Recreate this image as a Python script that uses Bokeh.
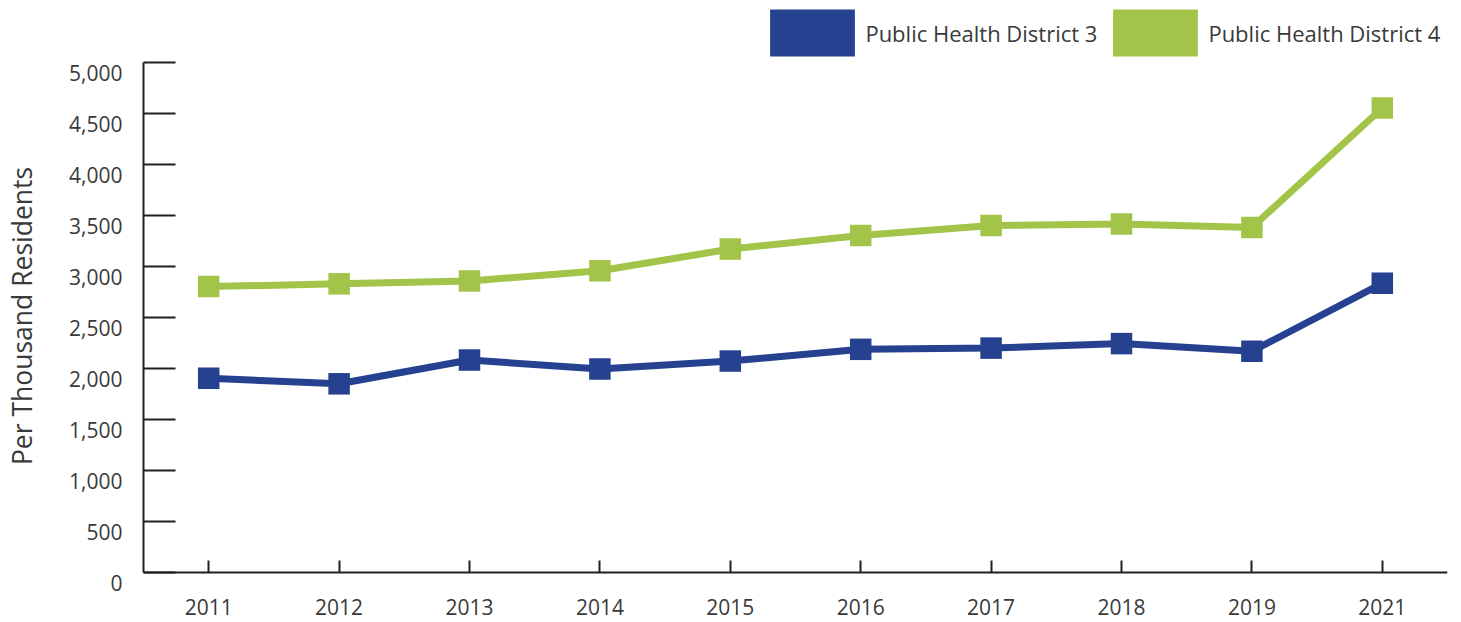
from bokeh.plotting import figure
from bokeh.models import (Range1d, FactorRange, NumeralTickFormatter, FixedTicker,
                          Legend, LegendItem, LinearAxis)
from bokeh.embed import file_html
from bokeh.resources import INLINE

years = ["2011", "2012", "2013", "2014", "2015", "2016", "2017", "2018", "2019", "2021"]
district3 = [1904, 1850, 2083, 1995, 2073, 2188, 2200, 2244, 2169, 2835]
district4 = [2803, 2830, 2858, 2958, 3171, 3303, 3402, 3416, 3382, 4554]
y_ticks = [0, 500, 1000, 1500, 2000, 2500, 3000, 3500, 4000, 4500, 5000]
series_names = ["Public Health District 3", "Public Health District 4"]

BLUE = "#25418F"
GREEN = "#A2C449"
TEXT = "#3a3a3a"
AXIS = "#231f20"
FONT = "Open Sans"

Y_MAX = 5000
H = 622
FRAME_TOP = 9        # frame spans the whole height so legend / labels are not clipped
ZERO_PX = 572        # px where 0 sits
MAX_PX = 62          # px where 5000 sits
PX_PER_UNIT = (ZERO_PX - MAX_PX) / Y_MAX
Y_TOP = Y_MAX + (MAX_PX - FRAME_TOP) / PX_PER_UNIT
Y_BOTTOM = -(H - ZERO_PX) / PX_PER_UNIT
LABEL_SHIFT = 105    # tick labels sit slightly below their ticks in the reference

p = figure(width=1461, height=H, output_backend="svg", toolbar_location=None,
           x_range=FactorRange(*years, range_padding=0), y_range=Range1d(Y_BOTTOM, Y_TOP),
           min_border_left=143, min_border_right=14, min_border_top=FRAME_TOP,
           min_border_bottom=0)
p.outline_line_color = None
p.xgrid.visible = False
p.ygrid.visible = False
p.background_fill_color = "white"
p.border_fill_color = "white"
p.extra_y_ranges = {"lbl": Range1d(Y_BOTTOM + LABEL_SHIFT, Y_TOP + LABEL_SHIFT)}

# lines + markers
p.line(years, district4, line_color=GREEN, line_width=7)
p.scatter(years, district4, marker="square", size=21.5, fill_color=GREEN, line_color=None)
p.line(years, district3, line_color=BLUE, line_width=7)
p.scatter(years, district3, marker="square", size=21.5, fill_color=BLUE, line_color=None)

# main y axis: line + ticks only
ya = p.yaxis[0]
ya.ticker = FixedTicker(ticks=y_ticks)
ya.bounds = (0, Y_MAX)
ya.axis_line_color = AXIS
ya.axis_line_width = 2
ya.major_tick_line_color = AXIS
ya.major_tick_line_width = 2
ya.major_tick_in = 32
ya.major_tick_out = 0
ya.minor_tick_line_color = None
ya.major_label_standoff = 0
ya.major_label_text_color = None
ya.major_label_text_font_size = "1px"

# label axis (same ticks, labels placed a little below each tick)
la = LinearAxis(y_range_name="lbl", ticker=FixedTicker(ticks=y_ticks),
                formatter=NumeralTickFormatter(format="0,0"))
la.axis_line_color = None
la.major_tick_line_color = None
la.minor_tick_line_color = None
la.major_tick_in = 0
la.major_tick_out = 0
la.major_label_standoff = 21
la.major_label_text_font = FONT
la.major_label_text_font_size = "21px"
la.major_label_text_color = TEXT
la.axis_label = "Per Thousand Residents"
la.axis_label_text_font = FONT
la.axis_label_text_font_size = "26.5px"
la.axis_label_text_font_style = "normal"
la.axis_label_text_color = TEXT
la.axis_label_standoff = 26
p.add_layout(la, "left")

# x axis, pinned at y = 0
xa = p.xaxis[0]
xa.fixed_location = 0
xa.axis_line_color = AXIS
xa.axis_line_width = 2
xa.major_tick_line_color = AXIS
xa.major_tick_line_width = 2
xa.major_tick_in = 12
xa.major_tick_out = 0
xa.minor_tick_line_color = None
xa.major_label_standoff = 26
xa.major_label_text_font = FONT
xa.major_label_text_font_size = "21px"
xa.major_label_text_color = TEXT

# legend swatches (renderers with no drawable point)
nan = float("nan")
r3 = p.quad(left=[nan], right=[nan], top=[nan], bottom=[nan], fill_color=BLUE, line_color=None)
r4 = p.quad(left=[nan], right=[nan], top=[nan], bottom=[nan], fill_color=GREEN, line_color=None)

legend_bottom = H - MAX_PX
for name, r, x in [(series_names[0], r3, 616.4), (series_names[1], r4, 959.4)]:
    lg = Legend(items=[LegendItem(label=name, renderers=[r])], location=(x, legend_bottom),
                orientation="horizontal", glyph_width=106, glyph_height=59,
                label_standoff=0, padding=0, margin=0, spacing=0,
                border_line_color=None, background_fill_alpha=0,
                label_text_font=FONT, label_text_font_size="22px",
                label_text_color=TEXT)
    p.add_layout(lg, "center")

open("out.html", "w").write(file_html(p, INLINE))
